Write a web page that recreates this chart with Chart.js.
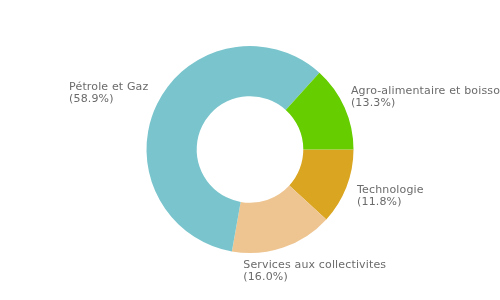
<!DOCTYPE html>
<html>
<head>
<meta charset="utf-8">
<script src="https://cdn.jsdelivr.net/npm/chart.js@4/dist/chart.umd.min.js"></script>
<style>
  html, body { margin: 0; padding: 0; background: #fff; }
  #wrap { width: 500px; height: 300px; }
</style>
</head>
<body>
<div id="wrap"><canvas id="myChart" width="500" height="300"></canvas></div>
<script>
const sectors = ['Technologie', 'Services aux collectivites', 'Pétrole et Gaz', 'Agro-alimentaire et boissons'];
const shares = [11.8, 16.0, 58.9, 13.3];
const colors = ['#DAA520', '#EEC591', '#7AC5CD', '#66CD00'];

// labels outside the ring, name + (pct)
const outsideLabels = {
  id: 'outsideLabels',
  afterDraw(chart) {
    const ctx = chart.ctx;
    const meta = chart.getDatasetMeta(0);
    ctx.save();
    ctx.font = '11px "DejaVu Sans"';
    ctx.letterSpacing = '0.15px';
    ctx.fillStyle = '#6b6b6b';
    ctx.textAlign = 'left';
    ctx.textBaseline = 'middle';
    const lineH = 12;
    meta.data.forEach((arc, i) => {
      const mid = (arc.startAngle + arc.endAngle) / 2;
      const dx = Math.cos(mid);
      const dy = Math.sin(mid);
      const r = arc.outerRadius * 1.13;
      const ax = arc.x + dx * r;
      const ay = arc.y + dy * r;
      const lines = [sectors[i], `(${shares[i].toFixed(1)}%)`];
      const w = Math.max(...lines.map((l) => ctx.measureText(l).width));
      const h = lines.length * lineH;
      const hx = Math.sign(dx) * Math.pow(Math.abs(dx), 0.85);
      const left = ax - w * (1 - hx) / 2;
      const top = ay - h * (1 - dy) / 2;
      lines.forEach((l, k) => {
        ctx.fillText(l, left, top + lineH / 2 + k * lineH);
      });
    });
    ctx.restore();
  }
};

const config = {
  type: 'doughnut',
  data: {
    labels: sectors,
    datasets: [{
      data: shares,
      backgroundColor: colors,
      borderWidth: 0,
      hoverOffset: 0,
      offset: 0
    }]
  },
  options: {
    responsive: false,
    animation: false,
    rotation: 90,
    cutout: '51.5%',
    layout: { padding: { top: 46, bottom: 47, left: 0, right: 0 } },
    plugins: {
      legend: { display: false },
      tooltip: { enabled: false }
    }
  },
  plugins: [outsideLabels]
};

window.onload = () => {
  new Chart(document.getElementById('myChart'), config);
};
</script>
</body>
</html>
